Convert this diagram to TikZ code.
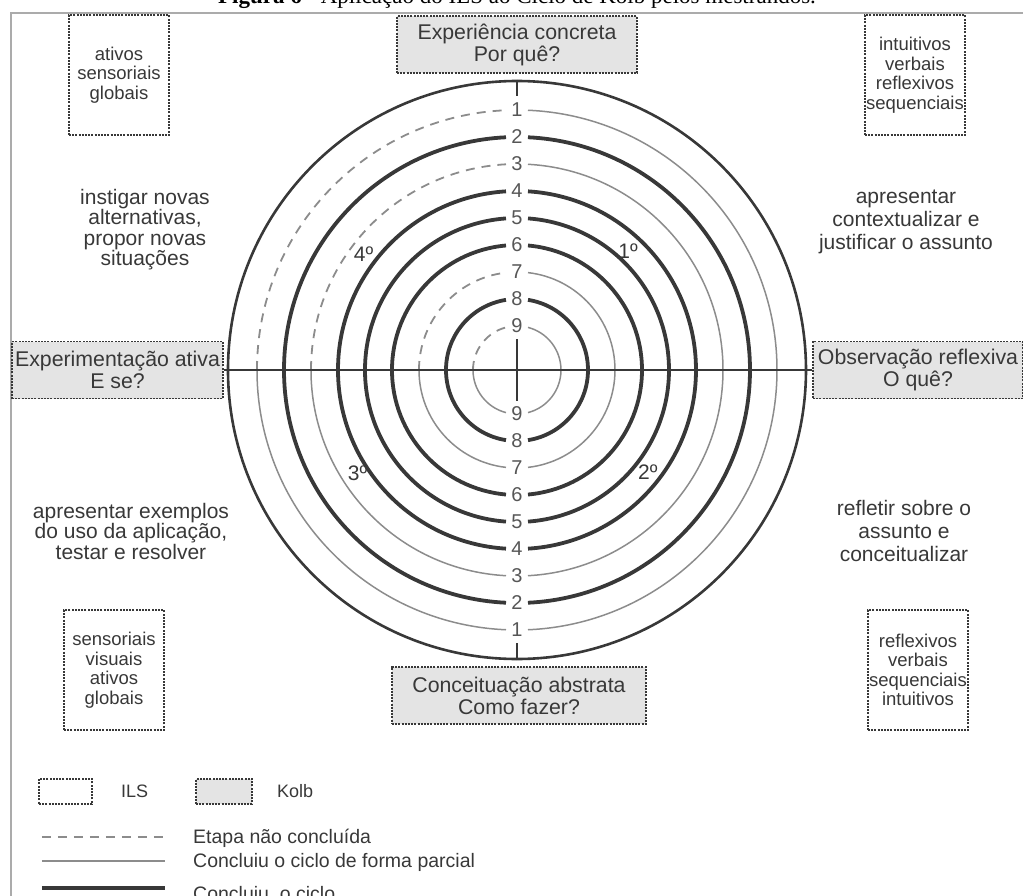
\documentclass[tikz,border=0pt]{standalone}
\usepackage{fontspec}
\setmainfont{Liberation Serif}
\setsansfont{Liberation Sans}
\usetikzlibrary{positioning,calc}
\definecolor{ink}{HTML}{383838}
\definecolor{pale}{HTML}{8C8C8C}
\definecolor{kolbgray}{HTML}{E4E4E4}
\definecolor{framegray}{HTML}{ABABAB}
\tikzset{
  kolb cycle/.style={
    box/.style={draw=ink, line width=1.1pt, dash pattern=on 2pt off 1.2pt, inner sep=0pt, align=center, text=ink},
    kolb box/.style={box, fill=kolbgray, minimum height=57pt, font={\sffamily\fontsize{21.3}{22}\selectfont}},
    ils box/.style={box, fill=white, minimum width=100pt, minimum height=120pt, font={\sffamily\fontsize{18.5}{19.5}\selectfont}},
    phase text/.style={align=center, text=ink, inner sep=0pt, font={\sffamily\fontsize{21}{##1}\selectfont}},
    phase text/.default=20.5,
    ring number/.style={text=ink!85, inner sep=0pt, font={\sffamily\fontsize{20}{20}\selectfont}},
    turn label/.style={text=ink, inner sep=0pt, font={\sffamily\fontsize{21}{21}\selectfont}},
    stage done/.style={draw=ink, line width=3.8pt},
    stage part/.style={draw=pale, line width=1.5pt},
    stage open/.style={draw=pale, line width=1.8pt, dash pattern=on 9pt off 7pt},
    axis line/.style={draw=ink, line width=2.2pt},
    outer ring/.style={draw=ink, line width=2.6pt},
    legend label/.style={anchor=base west, text=ink, inner sep=0pt, font={\sffamily\fontsize{19.5}{20}\selectfont}},
  }
}
\newcommand{\ring}[5]{
    \pgfmathsetmacro{\ringR}{44+(9-#1)*27}
    \pgfmathsetmacro{\gapA}{asin(11/\ringR)}
    \draw[#2] (90-\gapA:\ringR) arc (90-\gapA:0:\ringR);
    \draw[#3] (0:\ringR) arc (0:\gapA-90:\ringR);
    \draw[#4] (-90-\gapA:\ringR) arc (-90-\gapA:-180:\ringR);
    \draw[#5] (180:\ringR) arc (180:90+\gapA:\ringR);
    \node[ring number] (n#1t) at (0,\ringR) {#1};
    \node[ring number] (n#1b) at (0,-\ringR) {#1};
}
\begin{document}
\begin{tikzpicture}
[
    kolb cycle,
    x=1pt, y=1pt,
]
    \useasboundingbox (-517,370) rectangle (506,-525);
    \clip (-517,370) rectangle (506,-525);
    \node[anchor=base, inner sep=0pt, font={\fontsize{23}{23}\selectfont}] (title) at (0,366)
        {\textbf{Figura 6} - Aplicação do ILS ao Ciclo de Kolb pelos mestrandos.};
    \draw[framegray, line width=2pt] (-506,357) rectangle (540,-560);

    % rings 1..9 : quadrants 1o 2o 3o 4o
    \foreach \n/\qa/\qb/\qc/\qd in {
        1/part/part/part/open,
        2/done/done/done/done,
        3/part/part/part/open,
        4/done/done/done/done,
        5/done/done/done/done,
        6/done/done/done/done,
        7/part/part/part/open,
        8/done/done/done/done,
        9/part/part/part/open}
    {
        \ring{\n}{stage \qa}{stage \qb}{stage \qc}{stage \qd}
    }
    \node[circle, outer ring, minimum size=578pt, inner sep=0pt] (rim) at (0,0) {};

    % Kolb
    \node[kolb box, minimum width=240pt] (ec) at (0,325.5) {Experiência concreta\\Por quê?};
    \node[kolb box, minimum width=211pt] (ea) at (-399.5,0) {Experimentação ativa\\E se?};
    \node[kolb box, minimum width=210pt] (or) at (401,0) {Observação reflexiva\\O quê?};
    \node[kolb box, minimum width=254pt] (ca) at (2,-325.5) {Conceituação abstrata\\Como fazer?};

    \draw[axis line] (ea.east) -- (or.west);
    \draw[axis line] (rim.north) -- ++(0,-16);
    \draw[axis line] (rim.south) -- ++(0,17);
    \coordinate (ctop) at (0,31);
    \coordinate (cbot) at (0,-31);
    \draw[axis line] (ctop) -- (cbot);

    \foreach \q/\ang/\dist in {1/47/163, 2/322/166, 3/213/190, 4/143/192}
        \node[turn label] (q\q) at (\ang:\dist) {{\q}º};

    % ILS
    \node[ils box] (ilsA) at (-398,295) {ativos\\sensoriais\\globais};
    \node[ils box] (ilsB) at (398,295) {intuitivos\\verbais\\reflexivos\\sequenciais};
    \node[ils box] (ilsC) at (-403,-300) {sensoriais\\visuais\\ativos\\globais};
    \node[ils box] (ilsD) at (401,-300) {reflexivos\\verbais\\sequenciais\\intuitivos};

    \node[phase text] (fa) at (-372,140.5) {instigar novas\\alternativas,\\propor novas\\situações};
    \node[phase text=23] (fb) at (389,148) {apresentar\\contextualizar e\\justificar o assunto};
    \node[phase text] (fc) at (-386,-161) {apresentar exemplos\\do uso da aplicação,\\testar e resolver};
    \node[phase text=23] (fd) at (387,-161) {refletir sobre o\\assunto e\\conceitualizar};

    % legenda
    \node[box, minimum width=53pt, minimum height=25pt] (ilskey) at (-451.5,-421.5) {};
    \node[legend label, font={\sffamily\fontsize{18}{18}\selectfont}] (ilstxt) at (-396,-427) {ILS};
    \node[box, fill=kolbgray, minimum width=56pt, minimum height=25pt] (kolbkey) at (-293,-421.5) {};
    \node[legend label, font={\sffamily\fontsize{18}{18}\selectfont}] (kolbtxt) at (-240,-427) {Kolb};
    \foreach \y/\b/\s/\t in {-467/-473/open/Etapa não concluída,
                             -491/-497/part/Concluiu o ciclo de forma parcial,
                             -518/-530/done/Concluiu\ \ o ciclo}
    {
        \draw[stage \s] (-475,\y) -- (-352,\y);
        \node[legend label] at (-324,\b) {\t};
    }
\end{tikzpicture}
\end{document}
